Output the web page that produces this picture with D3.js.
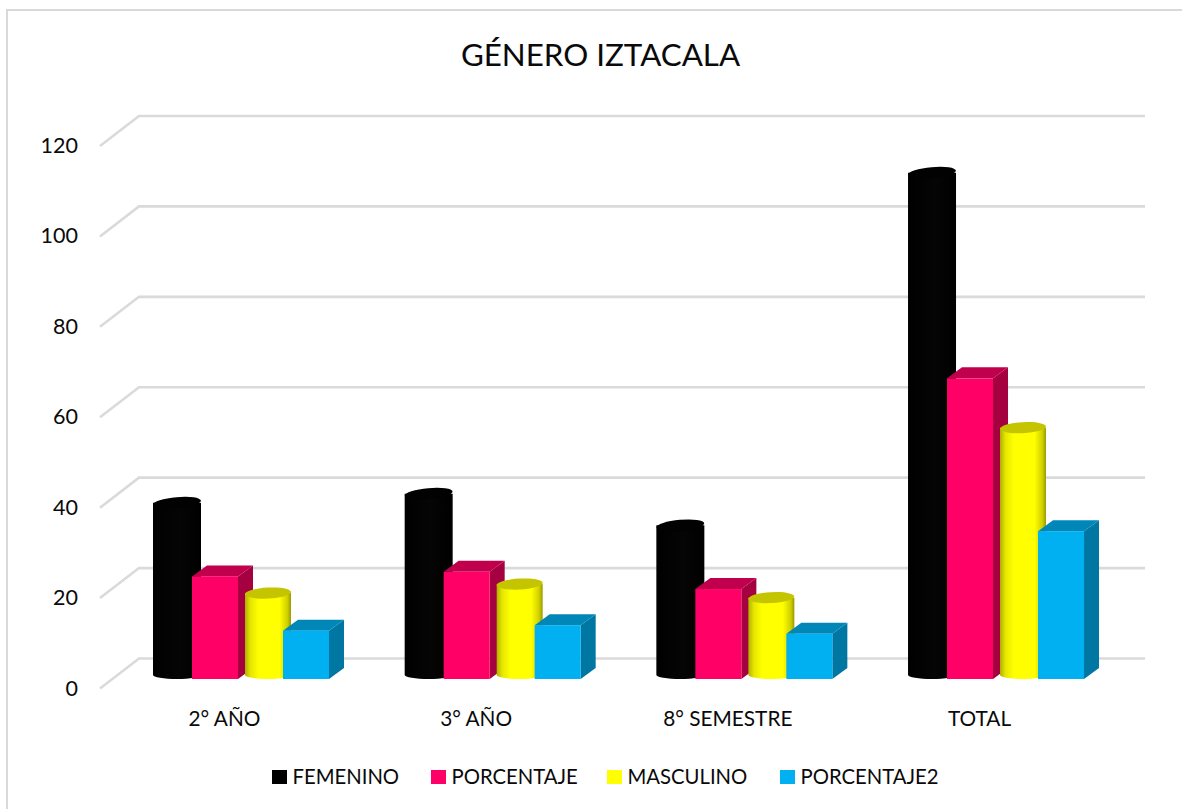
<!DOCTYPE html>
<html><head><meta charset="utf-8">
<script src="https://cdn.jsdelivr.net/npm/d3@7"></script>
<style>html,body{margin:0;background:#fff}svg{display:block}text{font-family:Lato,"Open Sans",sans-serif;fill:#0a0a0a}</style>
</head><body><div id="c"></div>
<script>
const title = "GÉNERO IZTACALA";
const categories = ["2° AÑO","3° AÑO","8° SEMESTRE","TOTAL"];
const seriesNames = ["FEMENINO","PORCENTAJE","MASCULINO","PORCENTAJE2"];
const femenino = [39,41,34,112];
const porcentaje = [22.7,23.7,19.9,66.5];
const masculino = [19,21,18,55.6];
const porcentaje2 = [10.7,11.9,10,32.7];
const yTicks = [0,20,40,60,80,100,120];
const seriesValues = [femenino,porcentaje,masculino,porcentaje2];

const W=1182,H=809;
const svg=d3.select("#c").append("svg").attr("width",W).attr("height",H);
const defs=svg.append("defs");
function grad(id,stops){const g=defs.append("linearGradient").attr("id",id);
  stops.forEach(([o,c])=>g.append("stop").attr("offset",o).attr("stop-color",c));}
grad("gk",[[0,"#000"],[.55,"#050505"],[1,"#000"]]);
grad("gy",[[0,"#b0b000"],[.12,"#e6e600"],[.3,"#ffff00"],[.75,"#ffff00"],[.92,"#d0d000"],[1,"#9a9a00"]]);

svg.append("rect").attr("x",7).attr("y",10).attr("width",1200).attr("height",820).attr("fill","#fff").attr("stroke","#d9d9d9").attr("stroke-width",2);

const depthX=39, depthY=30, boxDX=15, boxDY=11;
const y=d3.scaleLinear().domain([0,120]).range([658.5,116]);
const barH=v=>y(0)-y(v);
const baseY=679;
const x0=d3.scaleBand().domain(categories).range([153,1159.7]).paddingInner(0).paddingOuter(0);
const offs=d3.scaleOrdinal().domain(seriesNames).range([0,39,92,130]);
const widths=d3.scaleOrdinal().domain(seriesNames).range([48,46,46,46]);
const fills=d3.scaleOrdinal().domain(seriesNames).range(["url(#gk)","#ff0066","url(#gy)","#00b0f0"]);
const tops=d3.scaleOrdinal().domain(seriesNames).range(["#020202","#c0004d","#c4c400","#0087b8"]);
const sides=d3.scaleOrdinal().domain(seriesNames).range(["#000","#a5003f","#a0a000","#0076a3"]);
const solid=d3.scaleOrdinal().domain(seriesNames).range(["#000","#ff0066","#ffff00","#00b0f0"]);
const isCyl=d3.scaleOrdinal().domain(seriesNames).range([true,false,true,false]);
const tilt=d3.scaleOrdinal().domain(seriesNames).range([-5,0,-3,0]);

// gridlines
const grid=svg.append("g").attr("fill","none").attr("stroke","#dadada").attr("stroke-width",2.6);
grid.selectAll("path").data(yTicks).join("path")
  .attr("d",t=>`M${139-depthX},${y(t)+depthY}L139,${y(t)}L1145,${y(t)}`);
// y labels
svg.append("g").selectAll("text").data(yTicks).join("text")
  .attr("x",78).attr("y",t=>y(t)+depthY+7).attr("text-anchor","end").attr("font-size",21.5).text(t=>t);

// bars
categories.forEach((c,ci)=>{
  seriesNames.forEach((s,si)=>{
    const v=seriesValues[si][ci], X=x0(c)+offs(s), w=widths(s), top=baseY-barH(v);
    const g=svg.append("g");
    if(isCyl(s)){
      const rx=w/2, ry=5.5, by=baseY-4;
      g.append("path").attr("fill",fills(s))
       .attr("d",`M${X},${top}L${X},${by}A${rx},4 0 0 0 ${X+w},${by}L${X+w},${top}Z`);
      g.append("ellipse").attr("cx",X+rx).attr("cy",top).attr("rx",rx).attr("ry",ry)
       .attr("fill",tops(s)).attr("transform",`rotate(${tilt(s)} ${X+rx} ${top})`);
    } else {
      g.append("path").attr("fill",sides(s))
       .attr("d",`M${X+w},${top}L${X+w+boxDX},${top-boxDY}L${X+w+boxDX},${baseY-boxDY}L${X+w},${baseY}Z`);
      g.append("path").attr("fill",tops(s))
       .attr("d",`M${X},${top}L${X+boxDX},${top-boxDY}L${X+w+boxDX},${top-boxDY}L${X+w},${top}Z`);
      g.append("rect").attr("x",X).attr("y",top).attr("width",w).attr("height",baseY-top).attr("fill",fills(s));
    }
  });
});

// category labels
svg.append("g").selectAll("text").data(categories).join("text")
  .attr("x",c=>x0(c)+71.5).attr("y",726).attr("text-anchor","middle").attr("font-size",20.8).text(c=>c);

// title
svg.append("text").attr("x",600.5).attr("y",66).attr("text-anchor","middle").attr("font-size",31.3).text(title);

// legend
const legendX=d3.scaleOrdinal().domain(seriesNames).range([272,431,607,780]);
const lg=svg.append("g").selectAll("g").data(seriesNames).join("g");
lg.append("rect").attr("x",s=>legendX(s)).attr("y",770).attr("width",15).attr("height",14).attr("fill",s=>solid(s));
lg.append("text").attr("x",s=>legendX(s)+20.5).attr("y",784).attr("font-size",20.3).text(s=>s);
</script></body></html>
